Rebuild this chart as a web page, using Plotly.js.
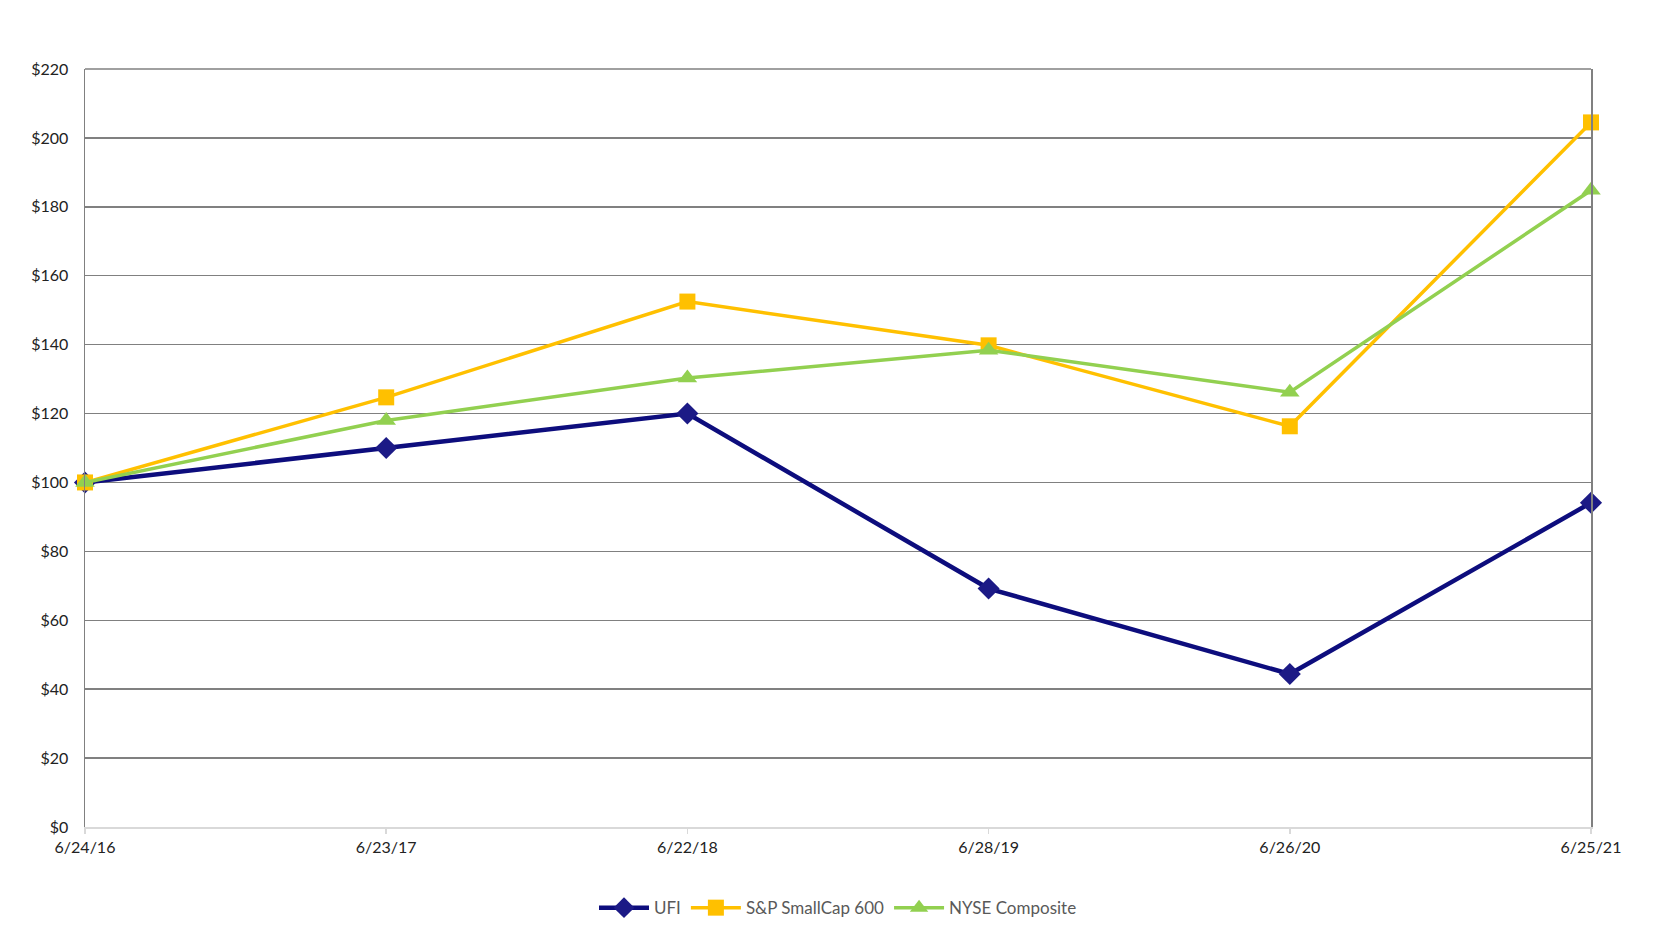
<!DOCTYPE html>
<html>
<head>
<meta charset="utf-8">
<script src="https://cdn.plot.ly/plotly-3.0.1.min.js"></script>
<style>html,body{margin:0;padding:0;background:#fff;}#chart{width:1656px;height:938px;}</style>
</head>
<body>
<div id="chart"></div>
<script>
const dates = ["6/24/16", "6/23/17", "6/22/18", "6/28/19", "6/26/20", "6/25/21"];
const ufi = [100, 110, 120, 69.2, 44.4, 94.1];
const spSmallCap600 = [100, 124.7, 152.5, 139.8, 116.3, 204.5];
const nyseComposite = [100, 118, 130.3, 138.4, 126.2, 184.8];
const yTicks = [0, 20, 40, 60, 80, 100, 120, 140, 160, 180, 200, 220];

const xIdx = dates.map((d, i) => i);

const traces = [
  {
    x: xIdx, y: ufi, name: "UFI", type: "scatter", mode: "lines+markers",
    line: {color: "#0d0d7d", width: 4.5},
    marker: {symbol: "diamond", size: 17, color: "#1c1a86"},
    cliponaxis: false
  },
  {
    x: xIdx, y: spSmallCap600, name: "S&P SmallCap 600", type: "scatter", mode: "lines+markers",
    line: {color: "#FFC000", width: 3.5},
    marker: {symbol: "square", size: 16, color: "#FFC000"},
    cliponaxis: false
  },
  {
    x: xIdx, y: nyseComposite, name: "NYSE Composite", type: "scatter", mode: "lines+markers",
    line: {color: "#92D050", width: 3.5},
    marker: {symbol: "triangle-up", size: 17, color: "#92D050"},
    cliponaxis: false
  }
];

const layout = {
  width: 1656, height: 938,
  margin: {l: 85, r: 65, t: 69, b: 109},
  paper_bgcolor: "#ffffff", plot_bgcolor: "#ffffff",
  font: {family: "Lato, 'Liberation Sans', sans-serif", color: "#222222", size: 16},
  showlegend: true,
  legend: {
    orientation: "h", x: 0.5, xanchor: "center", y: -0.107, yanchor: "middle",
    font: {size: 17, color: "#595959"}, traceorder: "normal", itemwidth: 50
  },
  xaxis: {
    range: [0, 5], tickvals: xIdx, ticktext: dates,
    showgrid: false, zeroline: false,
    showline: true, linecolor: "#d9d9d9", linewidth: 2,
    ticks: "outside", ticklen: 5, tickcolor: "#d9d9d9", tickwidth: 1.5,
    tickfont: {size: 16, color: "#222222"}, fixedrange: true
  },
  yaxis: {
    range: [0, 220], tickvals: yTicks, ticktext: yTicks.map(v => "$" + v),
    showgrid: true, gridcolor: "#808080", gridwidth: 1.5,
    zeroline: true, zerolinecolor: "#d9d9d9", zerolinewidth: 2,
    showline: true, mirror: true, linecolor: "#808080", linewidth: 1.5,
    ticks: "", ticklabelstandoff: 12,
    tickfont: {size: 16, color: "#222222"}, fixedrange: true
  },
  shapes: [
    {type: "line", xref: "paper", yref: "paper", x0: 0, x1: 1, y0: 1, y1: 1,
     line: {color: "#808080", width: 1.5}}
  ]
};

Plotly.newPlot("chart", traces, layout, {displayModeBar: false, staticPlot: true});
</script>
</body>
</html>
